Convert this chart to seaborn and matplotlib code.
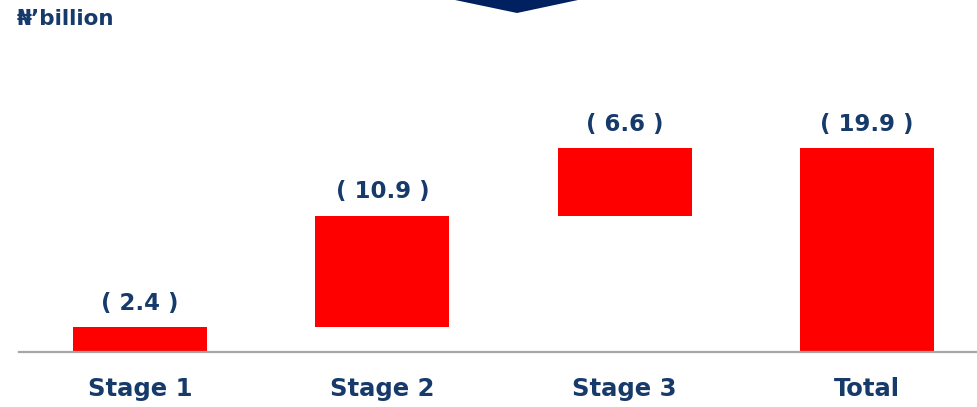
import matplotlib
matplotlib.use("Agg")
import matplotlib.pyplot as plt
import seaborn as sns
import pandas as pd
from matplotlib.patches import Polygon

# Data
stages = ["Stage 1", "Stage 2", "Stage 3", "Total"]
values = [2.4, 10.9, 6.6, 19.9]
starts = [0.0, 2.4, 13.3, 0.0]
value_labels = ["( 2.4 )", "( 10.9 )", "( 6.6 )", "( 19.9 )"]
unit_label = "\u20a6\u2019billion"

NAVY = "#163A6A"
RED = "#FF0000"

sns.set_theme(style="white")
plt.rcParams["font.family"] = ["DejaVu Sans"]

df = pd.DataFrame({"stage": stages, "value": values, "start": starts})

fig = plt.figure(figsize=(9.77, 4.07), dpi=100)
W, H = 977, 407
# axes: left at x=19px, bottom at y=352px, right beyond image edge
ax = fig.add_axes([19 / W, (H - 352) / H, (988 - 19) / W, (352 - 126.5) / H])

sns.barplot(data=df, x="stage", y="value", bottom=df["start"], color=RED,
            saturation=1, width=0.553, ax=ax, linewidth=0, edgecolor=RED)

ax.set_xlim(-0.5, 3.5)
ax.set_ylim(0, 22)
for s in ["top", "right", "left"]:
    ax.spines[s].set_visible(False)
ax.spines["bottom"].set_color("#A6A6A6")
ax.spines["bottom"].set_linewidth(1.6)
ax.set_yticks([])
ax.set_xlabel("")
ax.set_ylabel("")
ax.tick_params(axis="x", length=0, pad=18)
for lab in ax.get_xticklabels():
    lab.set_fontweight("bold")
    lab.set_fontsize(17.5)
    lab.set_color(NAVY)

for i, (s, v, t) in enumerate(zip(starts, values, value_labels)):
    ax.annotate(t, xy=(i, s + v), xytext=(0, 9), textcoords="offset points",
                ha="center", va="bottom", fontsize=16.5, fontweight="bold",
                color=NAVY, annotation_clip=False)

fig.text(17 / W, 1 - 19 / H, unit_label, ha="left", va="center",
         fontsize=15.5, fontweight="bold", color=NAVY)

# decorative chevron at top
pts = [(455 / W, 1.0), (578 / W, 1.0), (517 / W, 1 - 13 / H)]
fig.patches.append(Polygon(pts, closed=True, transform=fig.transFigure,
                           facecolor="#002060", edgecolor="none"))

fig.savefig("out.png", dpi=100)
